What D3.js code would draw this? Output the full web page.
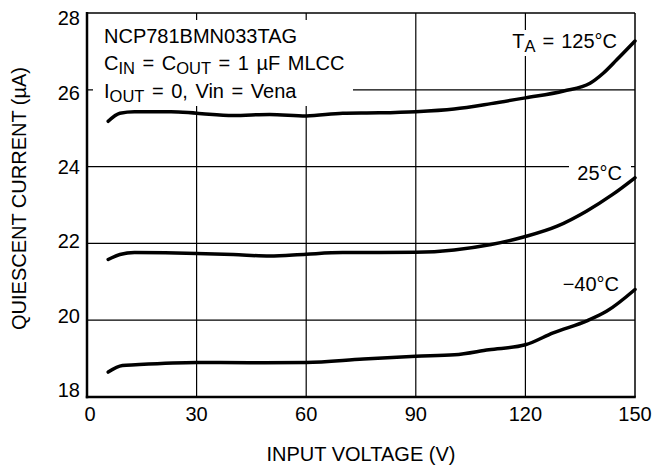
<!DOCTYPE html>
<html><head><meta charset="utf-8">
<script src="https://cdn.jsdelivr.net/npm/d3@7"></script>
<style>
html,body{margin:0;padding:0;background:#fff;}
text{font-family:"Liberation Sans",Arial,Helvetica,sans-serif;fill:#000;}
</style></head>
<body>
<script>
// ---- data ----
const xTicks = [0, 30, 60, 90, 120, 150];
const yTicks = [18, 20, 22, 24, 26, 28];
const volt125 = [5.8, 9, 13, 23, 30, 40, 50, 60, 70, 80, 90, 100.5, 110.6, 120, 130.5, 137.7, 141.3, 145, 150];
const curr125 = [25.18, 25.39, 25.43, 25.43, 25.39, 25.33, 25.36, 25.32, 25.39, 25.4, 25.43, 25.5, 25.64, 25.79, 25.97, 26.17, 26.43, 26.78, 27.27];
const volt25 = [5.8, 9, 13, 30, 40, 50, 60, 70, 90, 100.5, 110.6, 120, 128.7, 136.7, 143.8, 150];
const curr25 = [21.58, 21.71, 21.76, 21.74, 21.71, 21.67, 21.72, 21.76, 21.77, 21.83, 21.97, 22.18, 22.45, 22.84, 23.27, 23.71];
const voltM40 = [5.8, 9.7, 13.3, 30, 44.5, 60, 75.7, 90, 100.6, 110, 120, 127.6, 137, 142.2, 150];
const currM40 = [18.65, 18.82, 18.84, 18.9, 18.89, 18.9, 18.99, 19.06, 19.1, 19.23, 19.36, 19.67, 19.99, 20.23, 20.8];
const xTitle = "INPUT VOLTAGE (V)";
const yTitle = "QUIESCENT CURRENT (\u00B5A)";

// ---- layout ----
const W = 654, H = 468;
const L = 87, R = 635, T = 13, B = 397;
const svg = d3.select("body").append("svg").attr("width", W).attr("height", H);
const x = d3.scaleLinear().domain([0, 150]).range([L, R]);
const y = d3.scaleLinear().domain([18, 28]).range([B, T]);
const yLab = d3.scaleLinear().domain([18, 28]).range([390, 18]);

// grid
svg.append("g").selectAll("line").data(xTicks.slice(1, -1)).join("line")
  .attr("x1", d => x(d)).attr("x2", d => x(d)).attr("y1", T).attr("y2", B)
  .attr("stroke", "#000").attr("stroke-width", 1.2);
svg.append("g").selectAll("line").data(yTicks.slice(1, -1)).join("line")
  .attr("y1", d => y(d)).attr("y2", d => y(d)).attr("x1", L).attr("x2", R)
  .attr("stroke", "#000").attr("stroke-width", 1.2);

// white knockouts behind annotations
svg.append("rect").attr("x", L + 6).attr("y", T + 7).attr("width", 353 - L - 6).attr("height", 106 - T - 7).attr("fill", "#fff");
svg.append("rect").attr("x", 569).attr("y", 160).attr("width", 62).attr("height", 24).attr("fill", "#fff");
svg.append("rect").attr("x", 506).attr("y", 30).attr("width", 114).attr("height", 26).attr("fill", "#fff");

// frame
svg.append("line").attr("x1", L).attr("x2", R).attr("y1", T).attr("y2", T).attr("stroke", "#000").attr("stroke-width", 1.5);
svg.append("line").attr("x1", R).attr("x2", R).attr("y1", T).attr("y2", B).attr("stroke", "#000").attr("stroke-width", 1.5);
svg.append("line").attr("x1", L).attr("x2", L).attr("y1", T - 1).attr("y2", B + 1.2).attr("stroke", "#000").attr("stroke-width", 2.5);
svg.append("line").attr("x1", L - 1.2).attr("x2", R + 0.8).attr("y1", B).attr("y2", B).attr("stroke", "#000").attr("stroke-width", 2.5);

// tick labels
svg.append("g").selectAll("text").data(yTicks).join("text")
  .attr("x", 80).attr("y", d => yLab(d)).attr("dy", "0.36em")
  .attr("text-anchor", "end").attr("font-size", 20).text(d => d);
svg.append("g").selectAll("text").data(xTicks).join("text")
  .attr("x", d => x(d) + (d === 0 ? 3 : 0)).attr("y", 421)
  .attr("text-anchor", "middle").attr("font-size", 20).text(d => d);

// axis titles
svg.append("text").attr("x", (L + R) / 2).attr("y", 461).attr("text-anchor", "middle")
  .attr("font-size", 20).text(xTitle);
svg.append("text").attr("transform", "translate(26,198.5) rotate(-90)").attr("text-anchor", "middle")
  .attr("font-size", 20).text(yTitle);

// curves
const line = d3.line().curve(d3.curveMonotoneX);
const series = [[volt125, curr125], [volt25, curr25], [voltM40, currM40]];
svg.append("g").selectAll("path").data(series).join("path")
  .attr("d", s => line(s[0].map((v, i) => [x(v), y(s[1][i])])))
  .attr("fill", "none").attr("stroke", "#000").attr("stroke-width", 3.5)
  .attr("stroke-linecap", "round").attr("stroke-linejoin", "round");

// annotation text
const SUB = 16.5, DROP = 4;
function withSubs(t, parts) {
  // parts: array of [text, isSub]
  let down = false;
  parts.forEach(([s, isSub]) => {
    const sp = t.append("tspan").text(s);
    if (isSub && !down) { sp.attr("dy", DROP); down = true; }
    else if (!isSub && down) { sp.attr("dy", -DROP); down = false; }
    if (isSub) sp.attr("font-size", SUB);
  });
  return t;
}
svg.append("text").attr("x", 104).attr("y", 43).attr("font-size", 20).text("NCP781BMN033TAG");
withSubs(svg.append("text").attr("x", 104).attr("y", 70).attr("font-size", 20).attr("word-spacing", 2),
  [["C", false], ["IN", true], [" = C", false], ["OUT", true], [" = 1 \u00B5F MLCC", false]]);
withSubs(svg.append("text").attr("x", 104).attr("y", 97.5).attr("font-size", 20).attr("word-spacing", 2),
  [["I", false], ["OUT", true], [" = 0, Vin = Vena", false]]);
withSubs(svg.append("text").attr("x", 617).attr("y", 48).attr("font-size", 20).attr("word-spacing", 1.5).attr("text-anchor", "end"),
  [["T", false], ["A", true], [" = 125\u00B0C", false]]);
svg.append("text").attr("x", 622).attr("y", 180).attr("font-size", 20).attr("text-anchor", "end").text("25\u00B0C");
svg.append("text").attr("x", 619).attr("y", 291).attr("font-size", 20).attr("text-anchor", "end").text("\u221240\u00B0C");
</script>
</body></html>
